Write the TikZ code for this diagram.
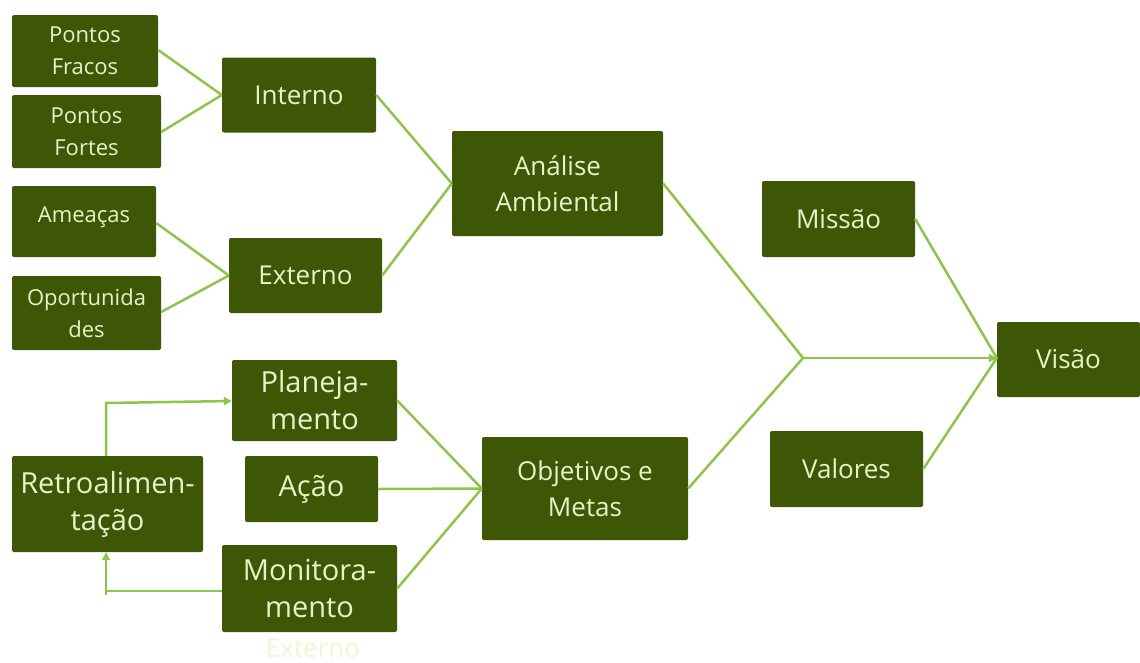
\documentclass[tikz,border=0pt]{standalone}
\usepackage{fontspec}
\setmainfont{Open Sans}
\usetikzlibrary{arrows.meta}
\definecolor{boxfill}{RGB}{61,87,6}
\definecolor{boxtext}{RGB}{230,243,200}
\definecolor{linkgreen}{RGB}{141,196,74}
\definecolor{fainttext}{RGB}{240,247,205}
\tikzset{
  box/.style={draw=none, fill=boxfill, rounded corners=2pt, text=boxtext, align=center, inner sep=0pt},
  fsmall/.style={font=\fontsize{22}{32}\selectfont},
  fmid/.style={font=\fontsize{26}{36}\selectfont},
  fbig/.style={font=\fontsize{29}{37}\selectfont},
  link/.style={draw=linkgreen, line width=2.5pt},
  arrowlink/.style={link, -{Triangle[length=8pt,width=8pt]}},
}
\begin{document}
\begin{tikzpicture}[x=1pt,y=-1pt]
\useasboundingbox (0,0) rectangle (1140,662);
% boxes
\node[box,fsmall,minimum width=146,minimum height=72] (pf) at (85,51) {Pontos\\Fracos};
\node[box,fsmall,minimum width=149,minimum height=73] (pft) at (86.5,131.5) {Pontos\\Fortes};
\node[box,fmid,minimum width=154,minimum height=75] (int) at (299,95) {Interno};
\node[box,fsmall,minimum width=144,minimum height=71,text depth=14pt] (am) at (84,221.5) {Ameaças};
\node[box,fsmall,minimum width=149,minimum height=74] (op) at (86.5,313) {Oportunida\\des};
\node[box,fmid,minimum width=153,minimum height=75] (ext) at (305.5,275.5) {Externo};
\node[box,fmid,minimum width=211,minimum height=105] (ana) at (557.5,183.5) {Análise\\Ambiental};
\node[box,fmid,minimum width=153,minimum height=76] (mis) at (838.5,219) {Missão};
\node[box,fmid,minimum width=153,minimum height=76] (val) at (846.5,469) {Valores};
\node[box,fmid,minimum width=143,minimum height=75] (vis) at (1068.5,359.5) {Visão};
\node[box,fbig,minimum width=165,minimum height=81] (pla) at (314.5,400.5) {Planeja-\\mento};
\node[box,fbig,minimum width=133,minimum height=66] (aca) at (311.5,489) {Ação};
\node[box,fbig,minimum width=191,minimum height=96] (ret) at (107.5,504) {Retroalimen-\\tação};
\node[box,fbig,minimum width=175,minimum height=87] (mon) at (309.5,588.5) {Monitora-\\mento};
\node[box,fmid,minimum width=206,minimum height=103] (obj) at (585,488.5) {Objetivos e\\Metas};
\node[fmid,text=fainttext,inner sep=0pt,anchor=base] (fx) at (313,657) {Externo};
% junction points
\coordinate (jint) at (int.west);
\coordinate (jext) at (ext.west);
\coordinate (jana) at (ana.west);
\coordinate (jobj) at (obj.west);
\coordinate (merge) at (803,358);
\coordinate (jvis) at (vis.west|-merge);
\coordinate (rtop) at (106,403);
\coordinate (rbot) at (106,595);
% connectors
\draw[link] (pf.east|-0,50) -- (jint);
\draw[link] (pft.east|-0,132) -- (jint);
\draw[link] (am.east|-0,223) -- (jext);
\draw[link] (op.east|-0,312) -- (jext);
\draw[link] (int.east) -- (jana);
\draw[link] (ext.east) -- (jana);
\draw[link] (ana.east) -- (merge);
\draw[link] (obj.east) -- (merge);
\draw[arrowlink] (merge) -- (jvis);
\draw[link] (mis.east) -- (jvis);
\draw[link] (val.east) -- (jvis);
\draw[link] (pla.east) -- (jobj);
\draw[link] (aca.east) -- (jobj);
\draw[link] (mon.east) -- (jobj);
\draw[arrowlink] (ret.north-|rtop) -- (rtop) -- (pla.west|-0,401);
\draw[arrowlink] (mon.west|-0,591) -- (106,591) -- (ret.south-|rtop);
\draw[link] (106,591) -- (rbot);
\end{tikzpicture}
\end{document}
